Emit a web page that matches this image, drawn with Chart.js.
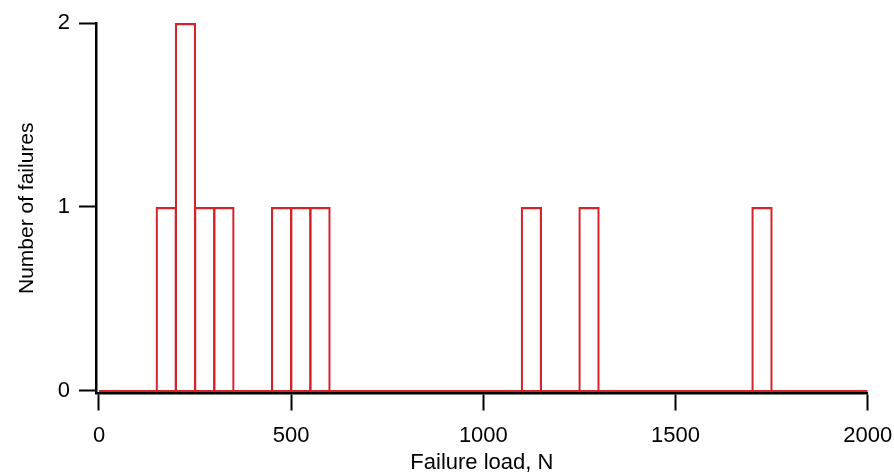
<!DOCTYPE html>
<html>
<head>
<meta charset="utf-8">
<script src="https://cdn.jsdelivr.net/npm/chart.js@4.4.1/dist/chart.umd.min.js"></script>
<style>
  html, body { margin: 0; padding: 0; background: #fff; }
  #wrap { width: 894px; height: 473px; }
</style>
</head>
<body>
<div id="wrap"><canvas id="histChart"></canvas></div>
<script>
// histogram bins (start of each 50 N bin) and counts
const binWidth = 50;
const binStarts = [0, 50, 100, 150, 200, 250, 300, 350, 400, 450,
                   500, 550, 600, 650, 700, 750, 800, 850, 900, 950,
                   1000, 1050, 1100, 1150, 1200, 1250, 1300, 1350, 1400, 1450,
                   1500, 1550, 1600, 1650, 1700, 1750, 1800, 1850, 1900, 1950];
const counts = [0, 0, 0, 1, 2, 1, 1, 0, 0, 1,
                1, 1, 0, 0, 0, 0, 0, 0, 0, 0,
                0, 0, 1, 0, 0, 1, 0, 0, 0, 0,
                0, 0, 0, 0, 1, 0, 0, 0, 0, 0];
const baseline = [[0, 0], [2000, 0]];
const xTicks = [0, 500, 1000, 1500, 2000];
const yTicks = [0, 1, 2];

const red = "#d2232a";
const font = { family: "'Liberation Sans', Arial, sans-serif", size: 22 };

// keep tick labels from pushing the plot area around
function noLabelPadding(s) {
    s.paddingLeft = 0; s.paddingRight = 0; s.paddingTop = 0; s.paddingBottom = 0;
}

document.addEventListener("DOMContentLoaded", function () {
    const ctx = document.getElementById("histChart").getContext("2d");

    new Chart(ctx, {
        data: {
            datasets: [{
                type: "line",
                data: baseline.map(p => ({ x: p[0], y: p[1] })),
                borderColor: red,
                borderWidth: 2.2,
                pointRadius: 0,
                order: 2
            }, {
                type: "bar",
                data: binStarts.map((s, i) => ({ x: s + binWidth / 2, y: counts[i] })),
                backgroundColor: "rgba(0,0,0,0)",
                borderColor: red,
                borderWidth: 2.2,
                borderSkipped: "start",
                barPercentage: 1.11,  // let neighbouring outlines overlap
                categoryPercentage: 1,
                order: 1
            }]
        },
        options: {
            responsive: true,
            maintainAspectRatio: false,
            animation: false,
            layout: { padding: { top: 23, right: 26.3, left: 0, bottom: 0 } },
            plugins: { legend: { display: false }, tooltip: { enabled: false } },
            scales: {
                x: {
                    type: "linear",
                    offset: false,
                    min: -7.8,
                    max: 2000,
                    afterBuildTicks: s => { s.ticks = xTicks.map(v => ({ value: v })); },
                    afterFit: s => { s.height = 79.5; noLabelPadding(s); },
                    grid: { offset: false, drawOnChartArea: false, drawTicks: true, tickLength: 17, tickWidth: 2, tickColor: "#000" },
                    border: { display: true, color: "#000", width: 2.5 },
                    ticks: { color: "#000", font: font, padding: 12, maxRotation: 0, autoSkip: false,
                             callback: v => String(v) },
                    title: { display: true, text: "Failure load, N", color: "#000",
                             font: { ...font, lineHeight: 1 }, padding: { top: 0, bottom: -1 } }
                },
                y: {
                    type: "linear",
                    min: -0.0136,
                    max: 2,
                    afterBuildTicks: s => { s.ticks = yTicks.map(v => ({ value: v })); },
                    afterFit: s => { s.width = 96; noLabelPadding(s); },
                    grid: { drawOnChartArea: false, drawTicks: true, tickLength: 17, tickWidth: 2, tickColor: "#000" },
                    border: { display: true, color: "#000", width: 2.5 },
                    ticks: { color: "#000", font: font, padding: 9, callback: v => String(v) },
                    title: { display: true, text: "Number of failures", color: "#000",
                             font: { ...font, size: 21 }, padding: { top: 15, bottom: 0 } }
                }
            }
        }
    });
});
</script>
</body>
</html>
